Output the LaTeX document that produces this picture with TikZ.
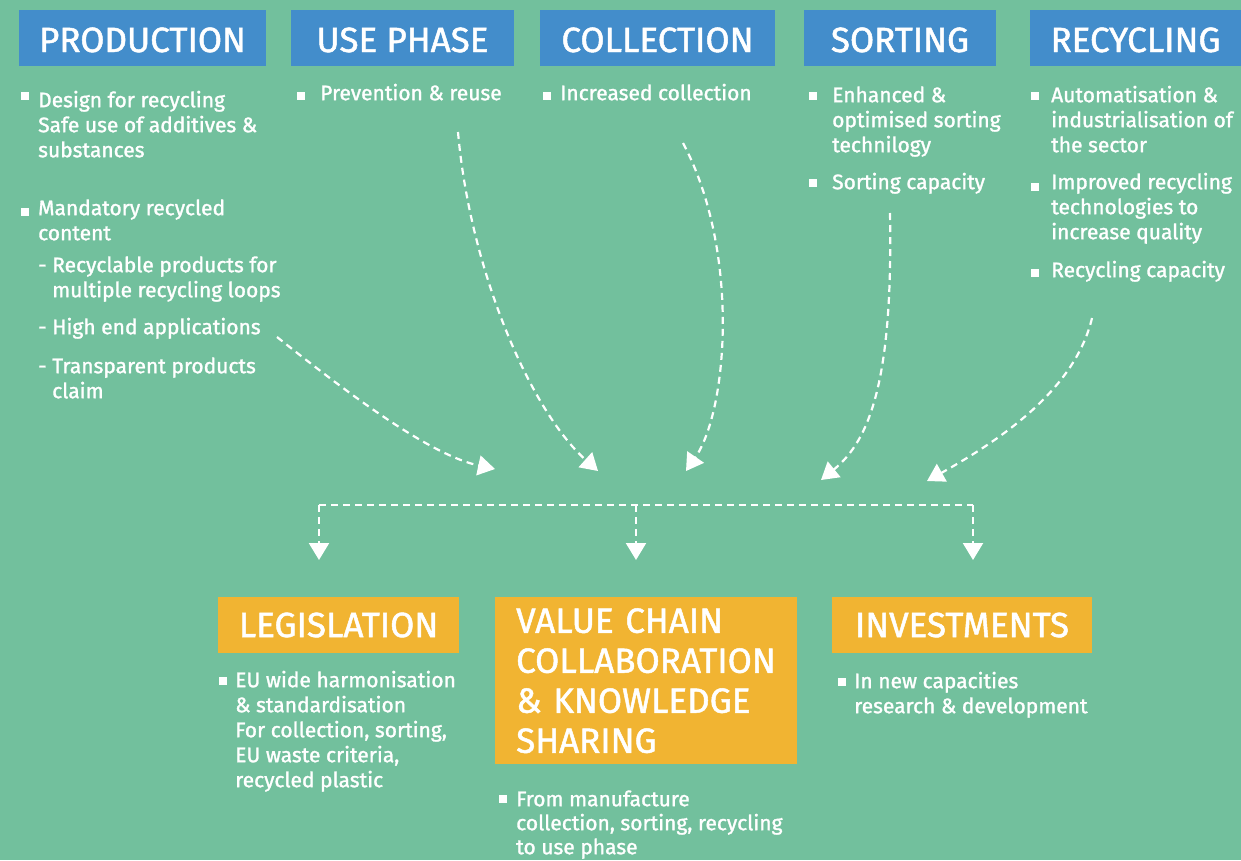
\documentclass[tikz,border=0pt]{standalone}
\usepackage{fontspec}
\setmainfont{Fira Sans}[FakeBold=1.4]
\usetikzlibrary{arrows.meta}
\definecolor{bg}{RGB}{114,192,157}
\definecolor{hblue}{RGB}{67,141,203}
\definecolor{horange}{RGB}{241,180,50}
\tikzset{
  hdr/.style={fill=hblue, text=white, font=\fontsize{35}{40}\selectfont, inner sep=0pt, minimum height=56pt, text height=28pt, text depth=0pt},
  obox/.style={fill=horange, text=white, font=\fontsize{35}{40}\selectfont, inner sep=0pt, minimum height=56pt},
  txt/.style={text=white, font=\fontsize{21}{25}\selectfont, align=left, anchor=north west, inner sep=0pt},
  sq/.style={fill=white, minimum size=8pt, inner sep=0pt},
  flow/.style={draw=white, line width=2.2pt, dash pattern=on 7pt off 5pt, -{Triangle[length=17pt,width=20pt]}},
  dist/.style={draw=white, line width=2.2pt, dash pattern=on 7pt off 5pt}
}
\begin{document}
\begin{tikzpicture}[x=1pt,y=-1pt]
\fill[bg] (0,0) rectangle (1241,860);
\useasboundingbox (0,0) rectangle (1241,860);
% headers
\node[hdr, minimum width=247pt] (prod) at (142.5,38) {PRODUCTION};
\node[hdr, minimum width=223pt] (use) at (402.5,38) {USE PHASE};
\node[hdr, minimum width=235pt] (coll) at (657.5,38) {COLLECTION};
\node[hdr, minimum width=192pt] (sort) at (900,38) {SORTING};
\node[hdr, minimum width=211pt] (recy) at (1135.5,38) {RECYCLING};
% production
\node[sq] (pb1) at (24.5,95.5) {};
\node[txt] (pt1) at (38,89.5) {\strut Design for recycling\\Safe use of additives \&\\substances};
\node[sq] (pb2) at (25,211.5) {};
\node[txt] (pt2) at (38,197.5) {\strut Mandatory recycled\\content};
\node[txt] (pt3) at (38,254.5) {\strut - Recyclable products for\\\hphantom{- }multiple recycling loops};
\node[txt] (pt4) at (38,316.5) {\strut - High end applications};
\node[txt] (pt5) at (38,355.5) {\strut - Transparent products\\\hphantom{- }claim};
% use phase
\node[sq] (ub1) at (301,96) {};
\node[txt] (ut1) at (320,82.5) {\strut Prevention \& reuse};
% collection
\node[sq] (cb1) at (547,96) {};
\node[txt] (ct1) at (560,82.5) {\strut Increased collection};
% sorting
\node[sq] (sb1) at (813,95.5) {};
\node[txt] (st1) at (832,84.5) {\strut Enhanced \&\\optimised sorting\\technilogy};
\node[sq] (sb2) at (813,183) {};
\node[txt] (st2) at (832,171.5) {\strut Sorting capacity};
% recycling
\node[sq] (rb1) at (1035,95.5) {};
\node[txt] (rt1) at (1051,84.5) {\strut Automatisation \&\\industrialisation of\\the sector};
\node[sq] (rb2) at (1035,187) {};
\node[txt] (rt2) at (1051,171.5) {\strut Improved recycling\\technologies to\\increase quality};
\node[sq] (rb3) at (1035,273) {};
\node[txt] (rt3) at (1051,259.5) {\strut Recycling capacity};
% bottom boxes
\node[obox, minimum width=241pt] (leg) at (338.5,625) {LEGISLATION};
\node[obox, minimum width=260pt] (inv) at (962,625) {INVESTMENTS};
\node[obox, anchor=north west, minimum width=302pt, minimum height=167pt, text width=260pt, align=left, inner xsep=21pt, inner ysep=0pt] (vc) at (495,597) {VALUE CHAIN\\COLLABORATION\\\& KNOWLEDGE\\SHARING};
% bottom texts
\node[sq] (lb1) at (223,681) {};
\node[txt] (lt1) at (235,669.5) {\strut EU wide harmonisation\\\& standardisation\\For collection, sorting,\\EU waste criteria,\\recycled plastic};
\node[sq] (vb1) at (503,799) {};
\node[txt, font=\fontsize{21}{24}\selectfont] (vt1) at (516,789.2) {\strut From manufacture\\collection, sorting, recycling\\to use phase};
\node[sq] (ib1) at (842,682) {};
\node[txt] (it1) at (854,670.5) {\strut In new capacities\\research \& development};
% connector coordinates
\coordinate (a1s) at (277,337);
\coordinate (a1e) at (495,469);
\coordinate (a2s) at (458,132);
\coordinate (a2e) at (598,471);
\coordinate (a3s) at (683,143);
\coordinate (a3e) at (686,471);
\coordinate (a4s) at (890,213);
\coordinate (a4e) at (821,480);
\coordinate (a5s) at (1092,318);
\coordinate (a5e) at (927,481);
\draw[flow] (a1s) .. controls (350,395) and (430,455) .. (a1e);
\draw[flow] (a2s) .. controls (470,270) and (530,410) .. (a2e);
\draw[flow] (a3s) .. controls (740,250) and (728,410) .. (a3e);
\draw[flow] (a4s) .. controls (893,380) and (870,440) .. (a4e);
\draw[flow] (a5s) .. controls (1075,390) and (1000,440) .. (a5e);
% distribution
\coordinate (d1) at (319,505);
\coordinate (d2) at (636,505);
\coordinate (d3) at (973,505);
\coordinate (t1) at (319,560);
\coordinate (t2) at (636,560);
\coordinate (t3) at (973,560);
\draw[dist] (d1) -- (d3);
\draw[flow] (d1) -- (t1);
\draw[flow] (d2) -- (t2);
\draw[flow] (d3) -- (t3);
\end{tikzpicture}
\end{document}
